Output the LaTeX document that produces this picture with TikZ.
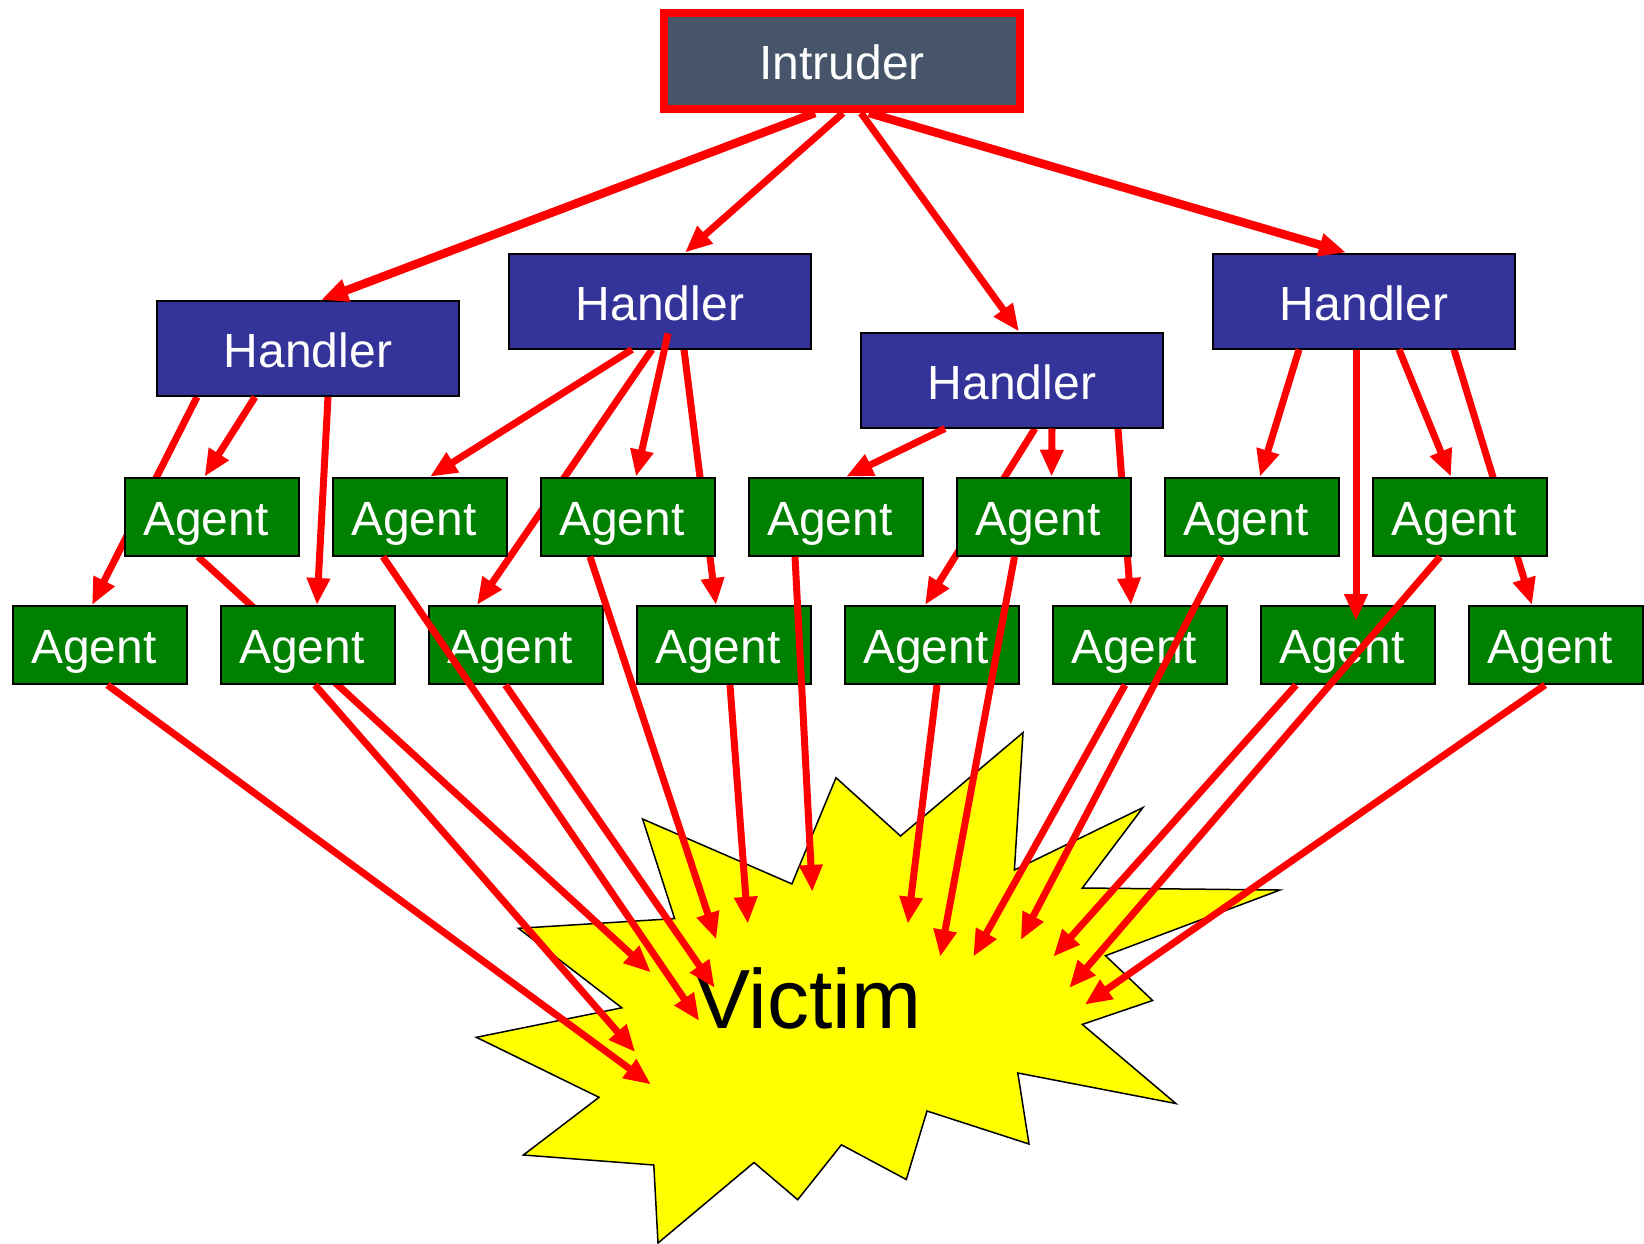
\documentclass[tikz,border=0pt]{standalone}
\usepackage{fontspec}
\setmainfont{Liberation Sans}
\usetikzlibrary{arrows.meta}
\definecolor{intrfill}{RGB}{70,85,105}
\definecolor{handblue}{RGB}{51,51,153}
\definecolor{agentgreen}{RGB}{0,128,0}
\definecolor{staryellow}{RGB}{255,255,0}
\pgfdeclarelayer{starlayer}
\pgfdeclarelayer{underlayer}
\pgfsetlayers{starlayer,underlayer,main}
\newcommand\mkagent[3]{%
  \node[agentbox] (#1) at (#2,#3) {};
  \node[agenttext] (#1t) at ([xshift=-6pt]#1.center) {Agent};}
\begin{document}
\begin{tikzpicture}[x=1pt,y=-1pt,
  font=\fontsize{48pt}{56pt}\selectfont,
  intruderbox/.style={draw=red, line width=8pt, fill=intrfill, text=white, minimum width=356pt, minimum height=96pt, inner sep=0pt, text height=38pt, text depth=0pt},
  handlerbox/.style={draw=black, line width=2pt, fill=handblue, text=white, minimum width=302pt, minimum height=95pt, inner sep=0pt, text height=38pt, text depth=0pt},
  agentbox/.style={draw=black, line width=2pt, fill=agentgreen, minimum width=174pt, minimum height=78pt, inner sep=0pt},
  agenttext/.style={text=white, inner sep=0pt, text height=37pt, text depth=0pt},
  arr/.style={draw=red, line width=7pt, -{Triangle[length=27pt,width=22pt]}},
  thickarr/.style={arr, line width=8.5pt},
]
\useasboundingbox (0,0) rectangle (1644,1244);

% star
\begin{pgfonlayer}{starlayer}
\draw[fill=staryellow, line width=1.5pt] (642.6,819) -- (791.9,883.9) -- (836,777.7) -- (900.5,836) -- (1023,732.6) -- (1014.4,870) -- (1142.9,807.6) -- (1082.3,888) -- (1280,890) -- (1105.5,955.7) -- (1152.6,1000.5) -- (1082.3,1024.4) -- (1175.8,1103.5) -- (1017.8,1073) -- (1029,1144) -- (927,1111) -- (906.3,1179.5) -- (841.4,1144.8) -- (797.7,1199.7) -- (754,1162.5) -- (658,1243) -- (653.8,1165) -- (523.4,1155) -- (599,1097.3) -- (476.4,1037.3) -- (621.8,1007.8) -- (518.5,928.3) -- (674.6,918.6) -- cycle;
\end{pgfonlayer}
\node[text=black, font=\fontsize{84pt}{100pt}\selectfont, inner sep=0pt, text height=61pt, text depth=0pt] (victim) at (808,997.5) {Victim};

% boxes
\node[intruderbox] (intr) at (842,61) {Intruder};
\node[handlerbox] (h1) at (308,348.5) {Handler};
\node[handlerbox] (h2) at (660,301) {Handler};
\node[handlerbox] (h3) at (1012,380) {Handler};
\node[handlerbox] (h4) at (1364,301) {Handler};

\mkagent{a1}{212}{516.7}
\mkagent{a2}{420}{516.7}
\mkagent{a3}{628}{516.7}
\mkagent{a4}{836}{516.7}
\mkagent{a5}{1044}{516.7}
\mkagent{a6}{1252}{516.7}
\mkagent{a7}{1460}{516.7}
\mkagent{b1}{100}{645}
\mkagent{b2}{308}{645}
\mkagent{b3}{516}{645}
\mkagent{b4}{724}{645}
\mkagent{b5}{932}{645}
\mkagent{b6}{1140}{645}
\mkagent{b7}{1348}{645}
\mkagent{b8}{1556}{645}

% arrows passing under agent boxes
\begin{pgfonlayer}{underlayer}
\draw[arr] ([xshift=-111pt]h1.south) -- ([xshift=-8pt]b1.north);
\draw[arr] ([xshift=-8pt]h2.south) -- ([xshift=-39pt]b3.north);
\draw[arr] ([xshift=24pt]h2.south) -- ([xshift=-8pt]b4.north);
\draw[arr] ([xshift=23pt]h3.south) -- ([xshift=-7pt]b5.north);
\draw[arr] ([xshift=106pt]h3.south) -- ([xshift=-9pt]b6.north);
\draw[arr] ([xshift=90pt]h4.south) -- ([xshift=-24pt]b8.north);
\draw[arr] ([xshift=-14pt]a1.south) -- ([shift={(-157,-25)}]victim.center);
\end{pgfonlayer}

% intruder to handlers
\draw[thickarr] ([xshift=-27pt]intr.south) -- ([xshift=13pt]h1.north);
\draw[arr] ([xshift=1pt]intr.south) -- ([xshift=25pt]h2.north);
\draw[arr] ([xshift=19pt]intr.south) -- ([xshift=7pt]h3.north);
\draw[thickarr] ([xshift=27pt]intr.south) -- ([xshift=-18pt]h4.north);

% handlers to agents
\draw[arr] ([xshift=-53pt]h1.south) -- ([xshift=-7.5pt]a1.north);
\draw[arr] ([xshift=20pt]h1.south) -- ([xshift=9pt]b2.north);
\draw[arr] ([xshift=-28pt]h2.south) -- ([xshift=10pt]a2.north);
\draw[arr] ([xshift=8pt,yshift=16pt]h2.south) -- ([xshift=8pt]a3.north);
\draw[arr] ([xshift=-67pt]h3.south) -- ([xshift=10pt]a4.north);
\draw[arr] ([xshift=40pt]h3.south) -- ([xshift=7.6pt]a5.north);
\draw[arr] ([xshift=-65pt]h4.south) -- ([xshift=8pt]a6.north);
\draw[arr] ([xshift=-8pt]h4.south) -- ([xshift=8pt,yshift=-16pt]b7.north);
\draw[arr] ([xshift=35pt]h4.south) -- ([xshift=-9pt]a7.north);

% agents to victim
\draw[arr] ([xshift=7.5pt]b1.south) -- ([shift={(-157,87)}]victim.center);
\draw[arr] ([xshift=7pt]b2.south) -- ([shift={(-172.7,54.7)}]victim.center);
\draw[arr] ([xshift=-37pt]a2.south) -- ([shift={(-108.7,23.5)}]victim.center);
\draw[arr] ([xshift=-10.6pt]b3.south) -- ([shift={(-93.2,-9.5)}]victim.center);
\draw[arr] ([xshift=-38pt]a3.south) -- ([shift={(-91.7,-58)}]victim.center);
\draw[arr] ([xshift=6pt]b4.south) -- ([shift={(-60.2,-73.7)}]victim.center);
\draw[arr] ([xshift=-41pt]a4.south) -- ([shift={(4.3,-105.6)}]victim.center);
\draw[arr] ([xshift=5pt]b5.south) -- ([shift={(99.8,-73.7)}]victim.center);
\draw[arr] ([xshift=-29.5pt]a5.south) -- ([shift={(132.2,-40.7)}]victim.center);
\draw[arr] ([xshift=-15pt]b6.south) -- ([shift={(165.2,-40.7)}]victim.center);
\draw[arr] ([xshift=-31pt]a6.south) -- ([shift={(212.7,-57.4)}]victim.center);
\draw[arr] ([xshift=-52pt]b7.south) -- ([shift={(245.2,-40.7)}]victim.center);
\draw[arr] ([xshift=-20pt]a7.south) -- ([shift={(261.2,-9.5)}]victim.center);
\draw[arr] ([xshift=-11pt]b8.south) -- ([shift={(276.7,7.2)}]victim.center);
\end{tikzpicture}
\end{document}
